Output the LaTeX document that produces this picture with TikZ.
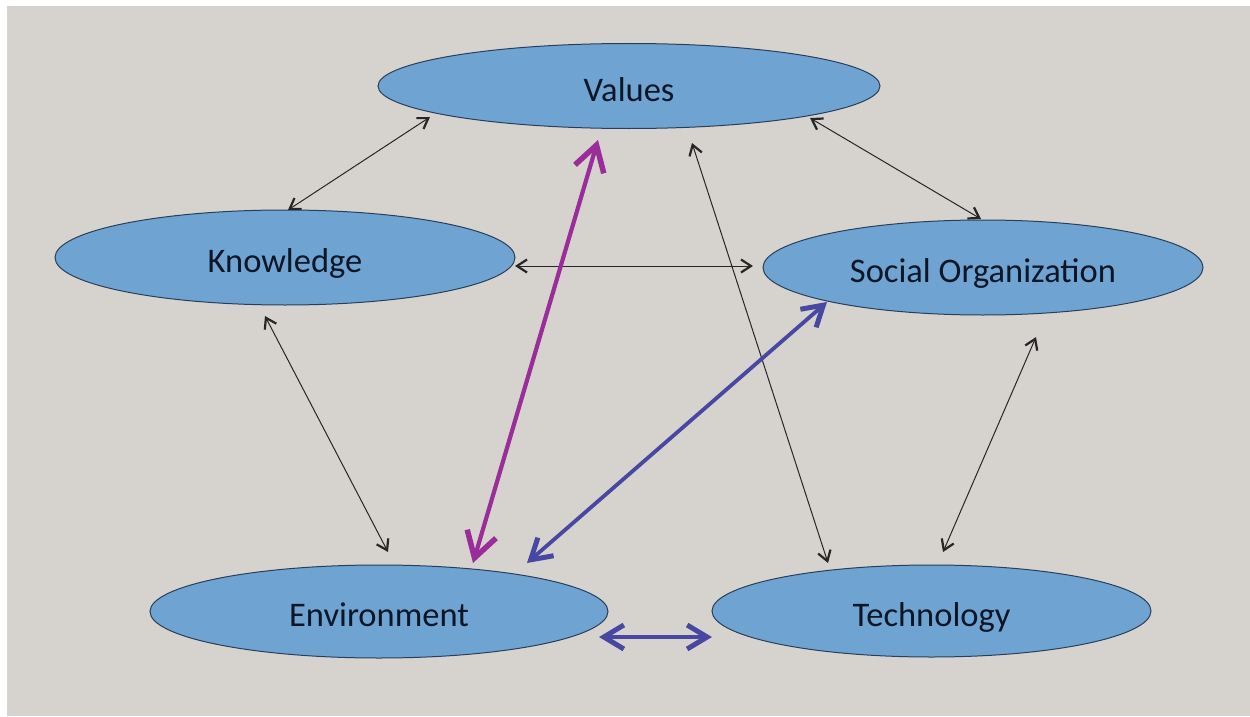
\documentclass[tikz,border=0pt]{standalone}
\usepackage{fontspec}
\setmainfont{Carlito}
\usetikzlibrary{shapes.geometric,arrows.meta}
\definecolor{bggray}{RGB}{214,211,207}
\definecolor{ellfill}{RGB}{111,164,210}
\definecolor{elldraw}{RGB}{40,62,90}
\definecolor{txtcol}{RGB}{12,22,38}
\definecolor{purplearr}{RGB}{155,45,155}
\definecolor{bluearr}{RGB}{72,72,162}
\tikzset{
  concept/.style={ellipse, fill=ellfill, draw=elldraw, line width=1pt, inner sep=0pt,
    text=txtcol, font=\fontsize{34.5}{41}\selectfont,
    text height=30pt, text depth=0pt},
  thinlink/.style={draw=black!85, line width=1pt,
    {Straight Barb[length=10pt,width=13pt,line width=2.2pt]}-{Straight Barb[length=10pt,width=13pt,line width=2.2pt]}},
  purplelink/.style={draw=purplearr, line width=4.2pt,
    {Straight Barb[length=25pt,width=30pt,line width=5.5pt]}-{Straight Barb[length=25pt,width=30pt,line width=5.5pt]}},
  bluelink/.style={draw=bluearr, line width=3.8pt,
    {Straight Barb[length=20pt,width=24pt,line width=5pt]}-{Straight Barb[length=20pt,width=24pt,line width=5pt]}}
}
\begin{document}
\begin{tikzpicture}[x=1pt,y=-1pt]
\useasboundingbox (0,0) rectangle (1250,717);
\fill[white] (0,0) rectangle (1250,717);
\fill[bggray] (7,6) rectangle (1250,716);

\node[concept, minimum width=502pt, minimum height=85pt] (V) at (629,86) {Values};
\node[concept, minimum width=460pt, minimum height=95pt] (K) at (285,257.5) {Knowledge};
\node[concept, minimum width=440pt, minimum height=95pt] (S) at (983,267.5) {Social Organization};
\node[concept, minimum width=458pt, minimum height=93pt] (E) at (379,611.5) {Environment};
\node[concept, minimum width=439pt, minimum height=92pt] (T) at (931.5,611) {Technology};

% connector end points
\coordinate (vk1) at (430,117);  \coordinate (vk2) at (288,210);
\coordinate (vs1) at (810,118);  \coordinate (vs2) at (981,219);
\coordinate (vt1) at (692,143);  \coordinate (vt2) at (828,563);
\coordinate (ks1) at (515,266);  \coordinate (ks2) at (753,266);
\coordinate (ke1) at (265,316);  \coordinate (ke2) at (388,552);
\coordinate (st1) at (1036,337); \coordinate (st2) at (943,552);
\coordinate (ve1) at (598,140);  \coordinate (ve2) at (473,563);
\coordinate (se1) at (827,302);  \coordinate (se2) at (527,563);
\coordinate (et1) at (599,637);  \coordinate (et2) at (712,637);

\draw[thinlink] (vk1) -- (vk2);
\draw[thinlink] (vs1) -- (vs2);
\draw[thinlink] (vt1) -- (vt2);
\draw[thinlink] (ks1) -- (ks2);
\draw[thinlink] (ke1) -- (ke2);
\draw[thinlink] (st1) -- (st2);
\draw[purplelink] (ve1) -- (ve2);
\draw[bluelink] (se1) -- (se2);
\draw[bluelink] (et1) -- (et2);
\end{tikzpicture}
\end{document}
